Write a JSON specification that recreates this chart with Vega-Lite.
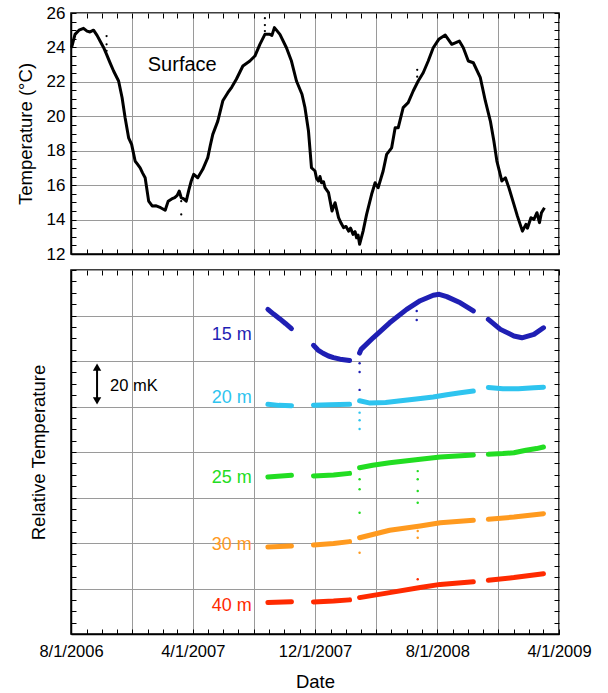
{
  "$schema": "https://vega.github.io/schema/vega-lite/v6.json",
  "padding": {"left": 15, "top": 3, "right": 10, "bottom": 1},
  "config": {
    "font": "Liberation Sans",
    "view": {"stroke": "black", "strokeWidth": 1.5},
    "axis": {"labelColor": "black", "titleColor": "black", "tickColor": "black", "domainColor": "black", "gridColor": "#9a9a9a", "titleFontWeight": "normal"}
  },
  "datasets": {
    "surface": [
      {"date": "2006-08-02", "temp": 23.98}, {"date": "2006-08-09", "temp": 24.76}, {"date": "2006-08-17", "temp": 25.0}, {"date": "2006-08-26", "temp": 25.11},
      {"date": "2006-09-02", "temp": 24.95}, {"date": "2006-09-08", "temp": 24.9}, {"date": "2006-09-15", "temp": 25.0}, {"date": "2006-09-22", "temp": 24.7},
      {"date": "2006-09-28", "temp": 24.37}, {"date": "2006-10-05", "temp": 24.0}, {"date": "2006-10-11", "temp": 23.6}, {"date": "2006-10-18", "temp": 23.1},
      {"date": "2006-10-25", "temp": 22.63}, {"date": "2006-11-04", "temp": 22.05}, {"date": "2006-11-11", "temp": 21.08}, {"date": "2006-11-17", "temp": 19.92},
      {"date": "2006-11-24", "temp": 18.75}, {"date": "2006-11-30", "temp": 18.37}, {"date": "2006-12-07", "temp": 17.4}, {"date": "2006-12-12", "temp": 17.2},
      {"date": "2006-12-17", "temp": 17.0}, {"date": "2006-12-22", "temp": 16.7}, {"date": "2006-12-27", "temp": 16.43}, {"date": "2007-01-03", "temp": 15.07},
      {"date": "2007-01-10", "temp": 14.79}, {"date": "2007-01-18", "temp": 14.8}, {"date": "2007-01-27", "temp": 14.69}, {"date": "2007-02-05", "temp": 14.54},
      {"date": "2007-02-11", "temp": 15.07}, {"date": "2007-02-18", "temp": 15.2}, {"date": "2007-02-24", "temp": 15.27}, {"date": "2007-03-01", "temp": 15.4},
      {"date": "2007-03-05", "temp": 15.66}, {"date": "2007-03-09", "temp": 15.27}, {"date": "2007-03-14", "temp": 15.2}, {"date": "2007-03-19", "temp": 15.07},
      {"date": "2007-03-24", "temp": 15.7}, {"date": "2007-03-29", "temp": 16.24}, {"date": "2007-04-03", "temp": 16.63}, {"date": "2007-04-11", "temp": 16.43},
      {"date": "2007-04-21", "temp": 16.92}, {"date": "2007-05-01", "temp": 17.6}, {"date": "2007-05-06", "temp": 18.3}, {"date": "2007-05-11", "temp": 18.95},
      {"date": "2007-05-21", "temp": 19.72}, {"date": "2007-05-31", "temp": 20.9}, {"date": "2007-06-10", "temp": 21.37}, {"date": "2007-06-18", "temp": 21.7},
      {"date": "2007-06-27", "temp": 22.15}, {"date": "2007-07-10", "temp": 22.92}, {"date": "2007-07-24", "temp": 23.21}, {"date": "2007-08-03", "temp": 23.5},
      {"date": "2007-08-13", "temp": 24.18}, {"date": "2007-08-23", "temp": 24.76}, {"date": "2007-09-02", "temp": 24.76}, {"date": "2007-09-06", "temp": 24.7},
      {"date": "2007-09-11", "temp": 25.15}, {"date": "2007-09-22", "temp": 24.76}, {"date": "2007-10-05", "temp": 23.98}, {"date": "2007-10-15", "temp": 23.21},
      {"date": "2007-10-25", "temp": 22.05}, {"date": "2007-11-05", "temp": 21.28}, {"date": "2007-11-11", "temp": 20.5}, {"date": "2007-11-18", "temp": 19.14},
      {"date": "2007-11-24", "temp": 17.01}, {"date": "2007-12-01", "temp": 16.82}, {"date": "2007-12-04", "temp": 16.4}, {"date": "2007-12-08", "temp": 16.24},
      {"date": "2007-12-11", "temp": 16.5}, {"date": "2007-12-14", "temp": 16.14}, {"date": "2007-12-18", "temp": 16.2}, {"date": "2007-12-21", "temp": 15.85},
      {"date": "2007-12-28", "temp": 15.56}, {"date": "2008-01-04", "temp": 14.5}, {"date": "2008-01-10", "temp": 14.98}, {"date": "2008-01-17", "temp": 14.11},
      {"date": "2008-01-22", "temp": 13.8}, {"date": "2008-01-27", "temp": 13.53}, {"date": "2008-02-01", "temp": 13.6}, {"date": "2008-02-06", "temp": 13.33},
      {"date": "2008-02-10", "temp": 13.5}, {"date": "2008-02-15", "temp": 13.14}, {"date": "2008-02-19", "temp": 13.3}, {"date": "2008-02-22", "temp": 12.94},
      {"date": "2008-02-25", "temp": 13.1}, {"date": "2008-02-28", "temp": 12.56}, {"date": "2008-03-06", "temp": 13.33}, {"date": "2008-03-13", "temp": 14.3},
      {"date": "2008-03-23", "temp": 15.47}, {"date": "2008-03-30", "temp": 16.14}, {"date": "2008-04-05", "temp": 15.85}, {"date": "2008-04-15", "temp": 16.82},
      {"date": "2008-04-22", "temp": 17.79}, {"date": "2008-05-02", "temp": 18.17}, {"date": "2008-05-09", "temp": 19.33}, {"date": "2008-05-15", "temp": 19.33},
      {"date": "2008-05-25", "temp": 20.5}, {"date": "2008-06-04", "temp": 20.79}, {"date": "2008-06-14", "temp": 21.47}, {"date": "2008-06-24", "temp": 22.05},
      {"date": "2008-07-04", "temp": 22.53}, {"date": "2008-07-14", "temp": 23.21}, {"date": "2008-07-24", "temp": 23.98}, {"date": "2008-08-04", "temp": 24.47},
      {"date": "2008-08-17", "temp": 24.72}, {"date": "2008-08-30", "temp": 24.18}, {"date": "2008-09-14", "temp": 24.37}, {"date": "2008-09-22", "temp": 23.98},
      {"date": "2008-10-02", "temp": 23.21}, {"date": "2008-10-12", "temp": 23.11}, {"date": "2008-10-26", "temp": 22.24}, {"date": "2008-11-05", "temp": 20.89},
      {"date": "2008-11-15", "temp": 19.72}, {"date": "2008-11-22", "temp": 18.56}, {"date": "2008-11-28", "temp": 17.4}, {"date": "2008-12-08", "temp": 16.24},
      {"date": "2008-12-15", "temp": 16.43}, {"date": "2008-12-22", "temp": 15.85}, {"date": "2009-01-01", "temp": 14.88}, {"date": "2009-01-08", "temp": 14.2},
      {"date": "2009-01-18", "temp": 13.33}, {"date": "2009-01-25", "temp": 13.72}, {"date": "2009-01-28", "temp": 13.5}, {"date": "2009-02-04", "temp": 14.11},
      {"date": "2009-02-10", "temp": 14.01}, {"date": "2009-02-16", "temp": 14.4}, {"date": "2009-02-21", "temp": 13.82}, {"date": "2009-02-25", "temp": 14.4},
      {"date": "2009-03-03", "temp": 14.69}
    ],
    "surfaceDots": [
      {"date": "2006-10-11", "temp": 24.66}, {"date": "2006-10-11", "temp": 24.18}, {"date": "2006-10-11", "temp": 23.8},
      {"date": "2007-03-09", "temp": 15.07}, {"date": "2007-03-09", "temp": 14.3},
      {"date": "2007-08-23", "temp": 25.7}, {"date": "2007-08-23", "temp": 25.3}, {"date": "2007-08-23", "temp": 24.95},
      {"date": "2008-06-22", "temp": 22.7}, {"date": "2008-06-22", "temp": 22.3}
    ],
    "deep": [
      {"date": "2007-08-29", "depth": "15 m", "seg": 1, "mK": 142.7}, {"date": "2007-09-10", "depth": "15 m", "seg": 1, "mK": 140.5},
      {"date": "2007-09-22", "depth": "15 m", "seg": 1, "mK": 138.5}, {"date": "2007-10-03", "depth": "15 m", "seg": 1, "mK": 136.5},
      {"date": "2007-10-15", "depth": "15 m", "seg": 1, "mK": 134.2},
      {"date": "2007-11-28", "depth": "15 m", "seg": 2, "mK": 126.9}, {"date": "2007-12-07", "depth": "15 m", "seg": 2, "mK": 124.8},
      {"date": "2007-12-17", "depth": "15 m", "seg": 2, "mK": 123.4}, {"date": "2007-12-28", "depth": "15 m", "seg": 2, "mK": 122.2},
      {"date": "2008-01-07", "depth": "15 m", "seg": 2, "mK": 121.5}, {"date": "2008-01-20", "depth": "15 m", "seg": 2, "mK": 120.8},
      {"date": "2008-02-08", "depth": "15 m", "seg": 2, "mK": 120.2},
      {"date": "2008-02-28", "depth": "15 m", "seg": 3, "mK": 123.5}, {"date": "2008-03-02", "depth": "15 m", "seg": 3, "mK": 125.1},
      {"date": "2008-03-26", "depth": "15 m", "seg": 3, "mK": 130.2}, {"date": "2008-04-28", "depth": "15 m", "seg": 3, "mK": 136.8},
      {"date": "2008-06-01", "depth": "15 m", "seg": 3, "mK": 142.7}, {"date": "2008-06-28", "depth": "15 m", "seg": 3, "mK": 146.5},
      {"date": "2008-07-24", "depth": "15 m", "seg": 3, "mK": 148.9}, {"date": "2008-08-05", "depth": "15 m", "seg": 3, "mK": 149.3},
      {"date": "2008-08-20", "depth": "15 m", "seg": 3, "mK": 148.3}, {"date": "2008-09-16", "depth": "15 m", "seg": 3, "mK": 145.6},
      {"date": "2008-10-12", "depth": "15 m", "seg": 3, "mK": 142.0},
      {"date": "2008-11-11", "depth": "15 m", "seg": 4, "mK": 138.3}, {"date": "2008-12-05", "depth": "15 m", "seg": 4, "mK": 133.9},
      {"date": "2009-01-01", "depth": "15 m", "seg": 4, "mK": 131.0}, {"date": "2009-01-17", "depth": "15 m", "seg": 4, "mK": 130.2},
      {"date": "2009-02-10", "depth": "15 m", "seg": 4, "mK": 131.7}, {"date": "2009-03-01", "depth": "15 m", "seg": 4, "mK": 134.6},

      {"date": "2007-08-29", "depth": "20 m", "seg": 1, "mK": 101.0}, {"date": "2007-09-20", "depth": "20 m", "seg": 1, "mK": 100.5},
      {"date": "2007-10-15", "depth": "20 m", "seg": 1, "mK": 100.3},
      {"date": "2007-11-28", "depth": "20 m", "seg": 2, "mK": 100.6}, {"date": "2007-12-30", "depth": "20 m", "seg": 2, "mK": 100.8},
      {"date": "2008-02-08", "depth": "20 m", "seg": 2, "mK": 101.0},
      {"date": "2008-02-28", "depth": "20 m", "seg": 3, "mK": 102.5}, {"date": "2008-03-20", "depth": "20 m", "seg": 3, "mK": 101.5},
      {"date": "2008-04-20", "depth": "20 m", "seg": 3, "mK": 101.8}, {"date": "2008-05-20", "depth": "20 m", "seg": 3, "mK": 102.5},
      {"date": "2008-06-20", "depth": "20 m", "seg": 3, "mK": 103.3}, {"date": "2008-07-24", "depth": "20 m", "seg": 3, "mK": 104.2},
      {"date": "2008-08-20", "depth": "20 m", "seg": 3, "mK": 105.2}, {"date": "2008-09-16", "depth": "20 m", "seg": 3, "mK": 106.0},
      {"date": "2008-10-12", "depth": "20 m", "seg": 3, "mK": 106.8},
      {"date": "2008-11-11", "depth": "20 m", "seg": 4, "mK": 108.4}, {"date": "2008-12-10", "depth": "20 m", "seg": 4, "mK": 107.8},
      {"date": "2009-01-10", "depth": "20 m", "seg": 4, "mK": 107.8}, {"date": "2009-02-10", "depth": "20 m", "seg": 4, "mK": 108.2},
      {"date": "2009-03-01", "depth": "20 m", "seg": 4, "mK": 108.5},

      {"date": "2007-08-29", "depth": "25 m", "seg": 1, "mK": 69.0}, {"date": "2007-10-15", "depth": "25 m", "seg": 1, "mK": 69.8},
      {"date": "2007-11-28", "depth": "25 m", "seg": 2, "mK": 69.5}, {"date": "2008-01-07", "depth": "25 m", "seg": 2, "mK": 69.9},
      {"date": "2008-02-08", "depth": "25 m", "seg": 2, "mK": 70.6},
      {"date": "2008-02-28", "depth": "25 m", "seg": 3, "mK": 73.1}, {"date": "2008-03-25", "depth": "25 m", "seg": 3, "mK": 74.2},
      {"date": "2008-04-28", "depth": "25 m", "seg": 3, "mK": 75.3}, {"date": "2008-06-28", "depth": "25 m", "seg": 3, "mK": 76.8},
      {"date": "2008-08-07", "depth": "25 m", "seg": 3, "mK": 77.8}, {"date": "2008-10-12", "depth": "25 m", "seg": 3, "mK": 78.7},
      {"date": "2008-11-11", "depth": "25 m", "seg": 4, "mK": 79.0}, {"date": "2008-12-10", "depth": "25 m", "seg": 4, "mK": 79.3},
      {"date": "2009-01-01", "depth": "25 m", "seg": 4, "mK": 79.7}, {"date": "2009-01-25", "depth": "25 m", "seg": 4, "mK": 80.8},
      {"date": "2009-02-15", "depth": "25 m", "seg": 4, "mK": 81.5}, {"date": "2009-03-01", "depth": "25 m", "seg": 4, "mK": 82.2},

      {"date": "2007-08-29", "depth": "30 m", "seg": 1, "mK": 38.2}, {"date": "2007-10-15", "depth": "30 m", "seg": 1, "mK": 38.7},
      {"date": "2007-11-28", "depth": "30 m", "seg": 2, "mK": 39.1}, {"date": "2008-01-07", "depth": "30 m", "seg": 2, "mK": 39.8},
      {"date": "2008-02-08", "depth": "30 m", "seg": 2, "mK": 40.6},
      {"date": "2008-02-28", "depth": "30 m", "seg": 3, "mK": 42.3}, {"date": "2008-04-28", "depth": "30 m", "seg": 3, "mK": 45.6},
      {"date": "2008-06-28", "depth": "30 m", "seg": 3, "mK": 47.5}, {"date": "2008-08-07", "depth": "30 m", "seg": 3, "mK": 48.9},
      {"date": "2008-10-12", "depth": "30 m", "seg": 3, "mK": 50.0},
      {"date": "2008-11-11", "depth": "30 m", "seg": 4, "mK": 50.4}, {"date": "2009-01-01", "depth": "30 m", "seg": 4, "mK": 51.4},
      {"date": "2009-03-01", "depth": "30 m", "seg": 4, "mK": 52.9},

      {"date": "2007-08-29", "depth": "40 m", "seg": 1, "mK": 13.8}, {"date": "2007-10-15", "depth": "40 m", "seg": 1, "mK": 14.2},
      {"date": "2007-11-28", "depth": "40 m", "seg": 2, "mK": 14.1}, {"date": "2008-01-07", "depth": "40 m", "seg": 2, "mK": 14.5},
      {"date": "2008-02-08", "depth": "40 m", "seg": 2, "mK": 15.0},
      {"date": "2008-02-28", "depth": "40 m", "seg": 3, "mK": 16.0}, {"date": "2008-04-28", "depth": "40 m", "seg": 3, "mK": 18.2},
      {"date": "2008-06-28", "depth": "40 m", "seg": 3, "mK": 20.4}, {"date": "2008-08-07", "depth": "40 m", "seg": 3, "mK": 21.8},
      {"date": "2008-10-12", "depth": "40 m", "seg": 3, "mK": 23.0},
      {"date": "2008-11-11", "depth": "40 m", "seg": 4, "mK": 23.6}, {"date": "2009-01-01", "depth": "40 m", "seg": 4, "mK": 24.8},
      {"date": "2009-03-01", "depth": "40 m", "seg": 4, "mK": 26.5}
    ],
    "outliers": [
      {"date": "2008-02-28", "depth": "15 m", "mK": 119.0}, {"date": "2008-02-28", "depth": "15 m", "mK": 115.2}, {"date": "2008-02-28", "depth": "15 m", "mK": 107.3},
      {"date": "2008-06-21", "depth": "15 m", "mK": 142.0}, {"date": "2008-06-21", "depth": "15 m", "mK": 138.0},
      {"date": "2008-02-28", "depth": "20 m", "mK": 97.3}, {"date": "2008-02-28", "depth": "20 m", "mK": 94.0}, {"date": "2008-02-28", "depth": "20 m", "mK": 90.1},
      {"date": "2008-02-28", "depth": "25 m", "mK": 68.0}, {"date": "2008-02-28", "depth": "25 m", "mK": 63.6}, {"date": "2008-02-28", "depth": "25 m", "mK": 53.3},
      {"date": "2008-06-23", "depth": "25 m", "mK": 71.6}, {"date": "2008-06-23", "depth": "25 m", "mK": 68.0}, {"date": "2008-06-23", "depth": "25 m", "mK": 62.9}, {"date": "2008-06-23", "depth": "25 m", "mK": 57.7},
      {"date": "2008-02-28", "depth": "30 m", "mK": 35.7},
      {"date": "2008-06-23", "depth": "30 m", "mK": 45.3}, {"date": "2008-06-23", "depth": "30 m", "mK": 42.3},
      {"date": "2008-06-23", "depth": "40 m", "mK": 24.1}
    ],
    "labels": [
      {"date": "2007-07-28", "depth": "15 m", "mK": 131.4},
      {"date": "2007-07-28", "depth": "20 m", "mK": 103.9},
      {"date": "2007-07-28", "depth": "25 m", "mK": 68.7},
      {"date": "2007-07-28", "depth": "30 m", "mK": 39.1},
      {"date": "2007-07-28", "depth": "40 m", "mK": 12.3}
    ]
  },
  "spacing": 16,
  "bounds": "flush",
  "vconcat": [
    {
      "width": 488,
      "height": 241,
      "layer": [
        {
          "layer": [
            {
              "data": {"name": "surface"},
              "mark": {"type": "line", "color": "black", "strokeWidth": 3, "strokeJoin": "round"},
              "encoding": {
                "x": {
                  "field": "date", "type": "temporal", "title": null,
                  "scale": {"type": "utc", "nice": false, "domain": [{"year": 2006, "month": 8, "date": 1, "utc": true}, {"year": 2009, "month": 4, "date": 1, "utc": true}]},
                  "axis": {
                    "tickCount": {"interval": "month", "step": 1}, "tickSize": -5, "labels": false,
                    "grid": true, "gridOpacity": {"condition": {"test": "utcmonth(datum.value) % 4 == 3", "value": 1}, "value": 0},
                    "domainWidth": 1.5
                  }
                },
                "y": {
                  "field": "temp", "type": "quantitative", "title": "Temperature (°C)",
                  "scale": {"domain": [12, 26], "nice": false, "zero": false},
                  "axis": {
                    "values": [12, 12.5, 13, 13.5, 14, 14.5, 15, 15.5, 16, 16.5, 17, 17.5, 18, 18.5, 19, 19.5, 20, 20.5, 21, 21.5, 22, 22.5, 23, 23.5, 24, 24.5, 25, 25.5, 26],
                    "tickCount": 200,
                    "tickSize": -5, "grid": true,
                    "gridOpacity": {"condition": {"test": "datum.value % 2 == 0", "value": 1}, "value": 0},
                    "labelExpr": "datum.value % 2 == 0 ? format(datum.value, 'd') : ''",
                    "labelOverlap": false, "labelFlush": false,
                    "labelFontSize": 17, "labelPadding": 11,
                    "titleFontSize": 18.5, "titlePadding": 11, "domainWidth": 1.5
                  }
                }
              }
            },
            {
              "data": {"name": "surfaceDots"},
              "mark": {"type": "circle", "color": "black", "size": 5, "opacity": 1},
              "encoding": {
                "x": {"field": "date", "type": "temporal", "title": null},
                "y": {"field": "temp", "type": "quantitative", "title": "Temperature (°C)"}
              }
            },
            {
              "data": {"values": [{}]},
              "mark": {"type": "text", "text": "Surface", "fontSize": 20, "align": "center", "baseline": "middle", "color": "black"},
              "encoding": {
                "x": {"datum": {"year": 2007, "month": 3, "date": 11, "utc": true}, "type": "temporal"},
                "y": {"datum": 22.98}
              }
            }
          ]
        },
        {
          "data": {"name": "surface"},
          "mark": {"type": "point", "opacity": 0},
          "encoding": {
            "x": {"field": "date", "type": "temporal", "title": null,
                  "axis": {"orient": "top", "tickCount": {"interval": "month", "step": 1}, "tickSize": -5, "labels": false, "grid": false, "domain": false}},
            "y": {"field": "temp", "type": "quantitative", "title": null,
                  "axis": {"orient": "right", "values": [12, 12.5, 13, 13.5, 14, 14.5, 15, 15.5, 16, 16.5, 17, 17.5, 18, 18.5, 19, 19.5, 20, 20.5, 21, 21.5, 22, 22.5, 23, 23.5, 24, 24.5, 25, 25.5, 26], "tickCount": 200, "tickSize": -5, "labels": false, "grid": false, "domain": false}}
          }
        }
      ],
      "resolve": {"axis": {"x": "independent", "y": "independent"}}
    },
    {
      "width": 488,
      "height": 364,
      "layer": [
        {
          "layer": [
            {
              "data": {"name": "deep"},
              "mark": {"type": "line", "strokeWidth": 5, "strokeCap": "round", "strokeJoin": "round"},
              "encoding": {
                "x": {
                  "field": "date", "type": "temporal", "title": "Date",
                  "scale": {"type": "utc", "nice": false, "domain": [{"year": 2006, "month": 8, "date": 1, "utc": true}, {"year": 2009, "month": 4, "date": 1, "utc": true}]},
                  "axis": {
                    "tickCount": {"interval": "month", "step": 1}, "tickSize": -5,
                    "grid": true, "gridOpacity": {"condition": {"test": "utcmonth(datum.value) % 4 == 3", "value": 1}, "value": 0},
                    "labelExpr": "(((utcyear(datum.value) - 2006) * 12 + utcmonth(datum.value) - 7) % 8 == 0) ? utcFormat(datum.value, '%-m/%-d/%Y') : ''",
                    "labelOverlap": false, "labelFlush": false,
                    "labelFontSize": 16.5, "labelPadding": 14,
                    "titleFontSize": 18.5, "titlePadding": 13, "domainWidth": 1.5
                  }
                },
                "y": {
                  "field": "mK", "type": "quantitative", "title": "Relative Temperature",
                  "scale": {"domain": [0, 160], "nice": false, "zero": false},
                  "axis": {
                    "values": [0, 5, 10, 15, 20, 25, 30, 35, 40, 45, 50, 55, 60, 65, 70, 75, 80, 85, 90, 95, 100, 105, 110, 115, 120, 125, 130, 135, 140, 145, 150, 155, 160],
                    "tickCount": 200,
                    "tickSize": -5, "grid": true, "labels": false,
                    "gridOpacity": {"condition": {"test": "datum.value % 20 == 0", "value": 1}, "value": 0},
                    "titleFontSize": 18.5, "titlePadding": 22, "domainWidth": 1.5
                  }
                },
                "color": {
                  "field": "depth", "type": "nominal", "legend": null,
                  "scale": {"domain": ["15 m", "20 m", "25 m", "30 m", "40 m"], "range": ["#1f1fb4", "#2ec4ef", "#22dd22", "#ff9a1f", "#ff2a00"]}
                },
                "detail": {"field": "seg", "type": "nominal"}
              }
            },
            {
              "data": {"name": "outliers"},
              "mark": {"type": "circle", "size": 6, "opacity": 1},
              "encoding": {
                "x": {"field": "date", "type": "temporal", "title": "Date"},
                "y": {"field": "mK", "type": "quantitative", "title": "Relative Temperature"},
                "color": {"field": "depth", "type": "nominal", "legend": null}
              }
            },
            {
              "data": {"name": "labels"},
              "mark": {"type": "text", "fontSize": 18, "align": "right", "baseline": "middle"},
              "encoding": {
                "x": {"field": "date", "type": "temporal", "title": "Date"},
                "y": {"field": "mK", "type": "quantitative", "title": "Relative Temperature"},
                "text": {"field": "depth", "type": "nominal"},
                "color": {"field": "depth", "type": "nominal", "legend": null}
              }
            },
            {
              "data": {"values": [{}]},
              "mark": {"type": "rule", "strokeWidth": 2, "color": "black"},
              "encoding": {
                "x": {"datum": {"year": 2006, "month": 9, "date": 22, "utc": true}, "type": "temporal"},
                "y": {"datum": 102.5},
                "y2": {"datum": 117.3}
              }
            },
            {
              "data": {"values": [{}]},
              "mark": {"type": "point", "shape": "triangle-up", "filled": true, "size": 70, "color": "black", "opacity": 1},
              "encoding": {
                "x": {"datum": {"year": 2006, "month": 9, "date": 22, "utc": true}, "type": "temporal"},
                "y": {"datum": 117.3}
              }
            },
            {
              "data": {"values": [{}]},
              "mark": {"type": "point", "shape": "triangle-down", "filled": true, "size": 70, "color": "black", "opacity": 1},
              "encoding": {
                "x": {"datum": {"year": 2006, "month": 9, "date": 22, "utc": true}, "type": "temporal"},
                "y": {"datum": 102.5}
              }
            },
            {
              "data": {"values": [{}]},
              "mark": {"type": "text", "text": "20 mK", "fontSize": 16.5, "align": "left", "baseline": "middle", "color": "black"},
              "encoding": {
                "x": {"datum": {"year": 2006, "month": 10, "date": 18, "utc": true}, "type": "temporal"},
                "y": {"datum": 109.2}
              }
            }
          ]
        },
        {
          "data": {"name": "deep"},
          "mark": {"type": "point", "opacity": 0},
          "encoding": {
            "x": {"field": "date", "type": "temporal", "title": null,
                  "axis": {"orient": "top", "tickCount": {"interval": "month", "step": 1}, "tickSize": -5, "labels": false, "grid": false, "domain": false}},
            "y": {"field": "mK", "type": "quantitative", "title": null,
                  "axis": {"orient": "right", "values": [0, 5, 10, 15, 20, 25, 30, 35, 40, 45, 50, 55, 60, 65, 70, 75, 80, 85, 90, 95, 100, 105, 110, 115, 120, 125, 130, 135, 140, 145, 150, 155, 160], "tickCount": 200, "tickSize": -5, "labels": false, "grid": false, "domain": false}}
          }
        }
      ],
      "resolve": {"axis": {"x": "independent", "y": "independent"}}
    }
  ]
}
